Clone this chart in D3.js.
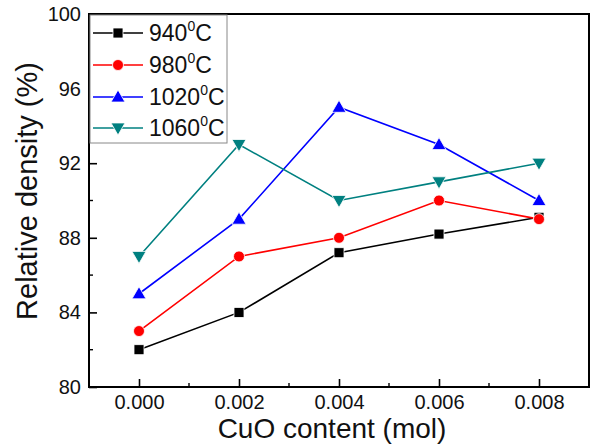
<!DOCTYPE html>
<html><head><meta charset="utf-8">
<script src="https://cdn.jsdelivr.net/npm/d3@7"></script>
<style>body{margin:0;background:#fff;} svg{display:block;font-family:"Liberation Sans",Arial,sans-serif;}</style>
</head><body>
<svg id="c" width="592" height="448"></svg>
<script>
const xValues = [0.000, 0.002, 0.004, 0.006, 0.008];
const s940 = [82, 84, 87.2, 88.2, 89.1];
const s980 = [83, 87, 88, 90, 89];
const s1020 = [85, 89, 95, 93, 90];
const s1060 = [87, 93, 90, 91, 92];
const seriesNames = ["940", "980", "1020", "1060"];
const xTicks = [0.000, 0.002, 0.004, 0.006, 0.008];
const yTicks = [80, 84, 88, 92, 96, 100];

const series = [
  {name: seriesNames[0], values: s940, color: "#000000", shape: "square"},
  {name: seriesNames[1], values: s980, color: "#ff0000", shape: "circle"},
  {name: seriesNames[2], values: s1020, color: "#0000ff", shape: "up"},
  {name: seriesNames[3], values: s1060, color: "#008080", shape: "down"}
];

const svg = d3.select("#c");
const L = 89, R = 589, T = 14, B = 387;
const x = d3.scaleLinear().domain([-0.001, 0.009]).range([L, R]);
const y = d3.scaleLinear().domain([80, 100]).range([B, T]);

function marker(g, shape, color, cx, cy) {
  if (shape === "square") {
    g.append("rect").attr("x", cx - 5).attr("y", cy - 5).attr("width", 10).attr("height", 10)
      .attr("fill", color).attr("stroke", "#fff").attr("stroke-width", 0.8);
  } else if (shape === "circle") {
    g.append("circle").attr("cx", cx).attr("cy", cy).attr("r", 5.5).attr("fill", color)
      .attr("stroke", "#fff").attr("stroke-width", 0.8);
  } else {
    const sym = d3.symbol().type(d3.symbolTriangle).size(85);
    g.append("path").attr("d", sym()).attr("fill", color).attr("stroke", "#fff").attr("stroke-width", 0.8)
      .attr("transform", `translate(${cx},${cy + (shape === "up" ? 1 : -1)}) rotate(${shape === "up" ? 0 : 180})`);
  }
}

// data lines
const line = d3.line().x((d, i) => x(xValues[i])).y(d => y(d));
const plot = svg.append("g");
series.forEach(s => {
  plot.append("path").datum(s.values).attr("d", line).attr("fill", "none")
    .attr("stroke", s.color).attr("stroke-width", 1.6);
});
series.forEach(s => {
  s.values.forEach((v, i) => marker(plot, s.shape, s.color, x(xValues[i]), y(v)));
});

// frame
svg.append("rect").attr("x", L).attr("y", T).attr("width", R - L).attr("height", B - T)
  .attr("fill", "none").attr("stroke", "#000").attr("stroke-width", 2);

// x axis
const xAxis = d3.axisBottom(x).tickValues(xTicks).tickFormat(d3.format(".3f")).tickSizeInner(-8).tickSizeOuter(0).tickPadding(8);
const gx = svg.append("g").attr("transform", `translate(0,${B})`).call(xAxis);
gx.attr("font-size", 20).attr("font-family", null);
gx.select(".domain").remove();
gx.selectAll(".tick line").attr("stroke-width", 1.6);
gx.selectAll("text").style("font-size", "20px").style("fill", "#111");
const xMinor = [-0.001, 0.001, 0.003, 0.005, 0.007].filter(v => v > -0.0009);
svg.append("g").selectAll("line").data(xMinor).join("line")
  .attr("x1", d => x(d)).attr("x2", d => x(d)).attr("y1", B).attr("y2", B - 4)
  .attr("stroke", "#000").attr("stroke-width", 1.4);

// y axis
const yAxis = d3.axisLeft(y).tickValues(yTicks).tickSizeInner(-8).tickSizeOuter(0).tickPadding(8);
const gy = svg.append("g").attr("transform", `translate(${L},0)`).call(yAxis);
gy.attr("font-size", 20).attr("font-family", null);
gy.select(".domain").remove();
gy.selectAll(".tick line").attr("stroke-width", 1.6);
gy.selectAll("text").style("font-size", "20px").style("fill", "#111");
const yMinor = [82, 86, 90, 94, 98];
svg.append("g").selectAll("line").data(yMinor).join("line")
  .attr("x1", L).attr("x2", L + 4).attr("y1", d => y(d)).attr("y2", d => y(d))
  .attr("stroke", "#000").attr("stroke-width", 1.4);

// axis titles
svg.append("text").attr("x", 332).attr("y", 438).attr("text-anchor", "middle")
  .style("font-size", "28px").attr("fill", "#111").text("CuO content (mol)");
svg.append("text").attr("transform", `translate(37,191) rotate(-90)`).attr("text-anchor", "middle")
  .style("font-size", "29px").attr("fill", "#111").text("Relative density (%)");

// legend
const lg = svg.append("g");
lg.append("rect").attr("x", L + 1).attr("y", T + 1).attr("width", 137).attr("height", 128)
  .attr("fill", "#fff").attr("stroke", "#888").attr("stroke-width", 1);
const legY = [33, 65, 97, 128];
series.forEach((s, i) => {
  const cy = legY[i];
  lg.append("line").attr("x1", 93).attr("x2", 143).attr("y1", cy).attr("y2", cy)
    .attr("stroke", s.color).attr("stroke-width", 1.6);
  marker(lg, s.shape, s.color, 118, cy);
  const t = lg.append("text").attr("x", 149).attr("y", cy + 8).style("font-size", "23px").attr("fill", "#111");
  t.append("tspan").text(s.name);
  t.append("tspan").attr("dy", -10).style("font-size", "14px").text("0");
  t.append("tspan").attr("dy", 10).text("C");
});
</script>
</body></html>
